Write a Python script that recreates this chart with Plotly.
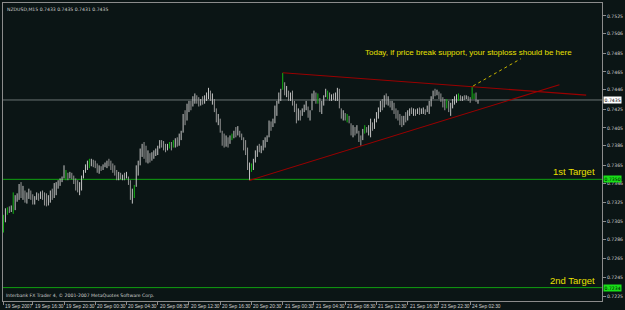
import plotly.graph_objects as go

symbol_header = "NZDUSD,M15 0.7433 0.7435 0.7431 0.7435"
footer_text = "Interbank FX Trader 4, \u00a9 2001-2007 MetaQuotes Software Corp."
note_text = "Today, if price break support, your stoploss should be here"

PIP = 0.0001  # prices below are in pips (0.0001)

opens = [
    7300, 7305, 7316, 7316, 7315, 7322, 7322, 7330, 7332, 7342,
    7335, 7338, 7330, 7333, 7338, 7332, 7327, 7330, 7334, 7330,
    7335, 7331, 7326, 7324, 7330, 7336, 7332, 7343, 7345, 7347,
    7349, 7352, 7355, 7355, 7352, 7356, 7352, 7347, 7341, 7339,
    7345, 7352, 7358, 7364, 7367, 7367, 7370, 7366, 7364, 7360,
    7362, 7361, 7364, 7366, 7368, 7366, 7362, 7359, 7356, 7351,
    7355, 7352, 7354, 7351, 7353, 7346, 7330, 7336, 7343, 7360,
    7368, 7380, 7384, 7376, 7372, 7376, 7370, 7376, 7378, 7380,
    7384, 7389, 7386, 7384, 7382, 7386, 7386, 7388, 7388, 7392,
    7390, 7397, 7400, 7417, 7412, 7428, 7431, 7428, 7436, 7440,
    7433, 7430, 7435, 7432, 7438, 7441, 7445, 7437, 7436, 7424,
    7414, 7415, 7402, 7390, 7387, 7393, 7388, 7395, 7395, 7400,
    7397, 7402, 7397, 7393, 7384, 7380, 7362, 7364, 7364, 7370,
    7378, 7383, 7381, 7384, 7389, 7393, 7395, 7410, 7406, 7413,
    7426, 7432, 7441, 7455, 7452, 7444, 7443, 7437, 7440, 7431,
    7425, 7413, 7420, 7418, 7424, 7428, 7428, 7418, 7424, 7438,
    7442, 7436, 7436, 7424, 7431, 7438, 7441, 7441, 7437, 7439,
    7437, 7441, 7445, 7426, 7418, 7421, 7416, 7416, 7410, 7400,
    7404, 7399, 7402, 7393, 7392, 7403, 7403, 7402, 7405, 7411,
    7406, 7413, 7419, 7424, 7431, 7427, 7437, 7433, 7434, 7429,
    7431, 7423, 7418, 7415, 7411, 7409, 7415, 7413, 7420, 7423,
    7422, 7424, 7421, 7424, 7422, 7423, 7425, 7422, 7427, 7432,
    7436, 7443, 7441, 7444, 7439, 7436, 7430, 7431, 7431, 7425,
    7429, 7434, 7436, 7438, 7438, 7436, 7438, 7437, 7438, 7436,
    7440, 7439, 7439, 7433,
]
highs = [
    7312, 7319, 7320, 7321, 7322, 7336, 7333, 7335, 7345, 7347,
    7343, 7338, 7336, 7340, 7338, 7334, 7332, 7336, 7335, 7337,
    7338, 7336, 7335, 7333, 7338, 7340, 7346, 7347, 7349, 7351,
    7353, 7365, 7360, 7357, 7358, 7357, 7354, 7351, 7349, 7347,
    7354, 7360, 7366, 7370, 7372, 7372, 7371, 7370, 7367, 7365,
    7364, 7366, 7368, 7370, 7372, 7370, 7367, 7365, 7360, 7358,
    7357, 7355, 7357, 7358, 7353, 7349, 7340, 7344, 7365, 7370,
    7383, 7388, 7390, 7386, 7381, 7378, 7379, 7381, 7383, 7386,
    7392, 7392, 7391, 7388, 7388, 7390, 7390, 7392, 7394, 7395,
    7399, 7402, 7420, 7424, 7431, 7434, 7434, 7439, 7442, 7440,
    7438, 7436, 7439, 7440, 7443, 7448, 7445, 7442, 7436, 7426,
    7420, 7415, 7402, 7399, 7397, 7395, 7397, 7399, 7402, 7406,
    7407, 7402, 7399, 7395, 7392, 7384, 7368, 7367, 7372, 7381,
    7386, 7388, 7386, 7392, 7395, 7397, 7413, 7412, 7415, 7429,
    7434, 7443, 7447, 7464, 7454, 7450, 7445, 7443, 7445, 7434,
    7431, 7426, 7424, 7426, 7430, 7434, 7428, 7424, 7442, 7445,
    7443, 7442, 7437, 7434, 7440, 7447, 7445, 7443, 7441, 7442,
    7443, 7448, 7447, 7426, 7424, 7421, 7420, 7418, 7410, 7408,
    7406, 7408, 7402, 7397, 7404, 7408, 7406, 7408, 7415, 7411,
    7415, 7422, 7427, 7434, 7436, 7440, 7442, 7439, 7434, 7434,
    7432, 7426, 7424, 7420, 7418, 7418, 7422, 7424, 7426, 7427,
    7426, 7425, 7426, 7427, 7426, 7427, 7425, 7429, 7434, 7439,
    7445, 7447, 7446, 7444, 7442, 7438, 7436, 7436, 7434, 7432,
    7436, 7439, 7441, 7442, 7440, 7439, 7440, 7440, 7439, 7438,
    7450, 7442, 7443, 7435,
]
lows = [
    7293, 7304, 7312, 7314, 7315, 7313, 7317, 7326, 7328, 7330,
    7328, 7325, 7324, 7329, 7328, 7323, 7323, 7328, 7327, 7329,
    7328, 7322, 7321, 7322, 7325, 7328, 7330, 7333, 7340, 7343,
    7347, 7351, 7349, 7349, 7351, 7350, 7345, 7338, 7336, 7333,
    7338, 7351, 7357, 7360, 7362, 7364, 7363, 7362, 7357, 7356,
    7359, 7360, 7363, 7362, 7364, 7360, 7357, 7354, 7349, 7349,
    7350, 7349, 7349, 7351, 7344, 7328, 7324, 7330, 7342, 7354,
    7365, 7374, 7372, 7368, 7367, 7368, 7370, 7372, 7375, 7376,
    7383, 7384, 7381, 7379, 7381, 7383, 7381, 7384, 7384, 7385,
    7386, 7392, 7400, 7408, 7413, 7422, 7424, 7428, 7431, 7431,
    7428, 7429, 7430, 7431, 7434, 7436, 7434, 7430, 7422, 7411,
    7408, 7400, 7386, 7384, 7385, 7384, 7388, 7392, 7394, 7395,
    7397, 7395, 7392, 7381, 7376, 7360, 7349, 7358, 7360, 7368,
    7374, 7379, 7378, 7381, 7384, 7390, 7395, 7402, 7406, 7410,
    7418, 7431, 7434, 7446, 7440, 7438, 7434, 7434, 7429, 7422,
    7410, 7413, 7413, 7418, 7422, 7424, 7416, 7413, 7424, 7434,
    7431, 7431, 7422, 7420, 7429, 7438, 7436, 7434, 7434, 7435,
    7434, 7434, 7426, 7415, 7413, 7413, 7411, 7410, 7397, 7395,
    7397, 7399, 7390, 7386, 7392, 7399, 7400, 7397, 7395, 7402,
    7404, 7411, 7415, 7422, 7424, 7427, 7430, 7429, 7427, 7424,
    7420, 7415, 7413, 7408, 7406, 7408, 7411, 7413, 7418, 7420,
    7418, 7418, 7420, 7419, 7420, 7420, 7419, 7422, 7420, 7428,
    7436, 7439, 7440, 7436, 7433, 7427, 7424, 7426, 7422, 7418,
    7426, 7430, 7432, 7434, 7434, 7434, 7435, 7436, 7434, 7432,
    7436, 7436, 7433, 7431,
]
closes = [
    7300, 7316, 7316, 7315, 7320, 7322, 7330, 7332, 7342, 7335,
    7338, 7330, 7333, 7338, 7332, 7327, 7330, 7334, 7330, 7335,
    7331, 7326, 7324, 7330, 7336, 7332, 7343, 7345, 7347, 7349,
    7352, 7356, 7355, 7352, 7356, 7352, 7347, 7341, 7339, 7345,
    7352, 7358, 7364, 7367, 7367, 7370, 7366, 7364, 7360, 7362,
    7361, 7364, 7366, 7368, 7366, 7362, 7359, 7356, 7351, 7355,
    7352, 7354, 7351, 7356, 7346, 7330, 7336, 7336, 7360, 7368,
    7380, 7384, 7376, 7372, 7376, 7370, 7376, 7378, 7380, 7384,
    7389, 7386, 7384, 7382, 7386, 7386, 7384, 7388, 7392, 7390,
    7397, 7400, 7417, 7412, 7428, 7431, 7426, 7436, 7440, 7433,
    7430, 7435, 7432, 7438, 7441, 7445, 7437, 7440, 7424, 7414,
    7417, 7402, 7390, 7387, 7393, 7387, 7392, 7395, 7400, 7397,
    7404, 7397, 7393, 7384, 7380, 7362, 7364, 7364, 7370, 7378,
    7383, 7381, 7384, 7389, 7393, 7395, 7410, 7405, 7413, 7426,
    7432, 7441, 7445, 7455, 7444, 7447, 7437, 7440, 7431, 7425,
    7413, 7420, 7416, 7424, 7428, 7431, 7418, 7421, 7438, 7442,
    7434, 7436, 7424, 7431, 7438, 7444, 7441, 7437, 7439, 7437,
    7441, 7445, 7428, 7418, 7421, 7416, 7416, 7412, 7400, 7404,
    7399, 7405, 7393, 7389, 7401, 7403, 7402, 7405, 7411, 7406,
    7413, 7419, 7424, 7431, 7427, 7437, 7433, 7436, 7429, 7431,
    7423, 7418, 7415, 7411, 7409, 7415, 7413, 7420, 7423, 7422,
    7424, 7421, 7424, 7422, 7423, 7425, 7421, 7427, 7432, 7436,
    7443, 7441, 7444, 7439, 7436, 7430, 7427, 7431, 7425, 7429,
    7434, 7436, 7439, 7438, 7436, 7438, 7437, 7438, 7436, 7435,
    7440, 7439, 7434, 7435,
]
assert len(opens) == len(highs) == len(lows) == len(closes), (len(opens), len(highs), len(lows), len(closes))

x_tick_bars = [0, 15, 31, 47, 63, 79, 95, 111, 127, 143, 159, 175, 191, 207, 223, 239]
x_tick_labels = ["19 Sep 2007", "19 Sep 16:30", "19 Sep 20:30", "20 Sep 00:30", "20 Sep 04:30",
                 "20 Sep 08:30", "20 Sep 12:30", "20 Sep 16:30", "20 Sep 20:30", "21 Sep 00:30",
                 "21 Sep 04:30", "21 Sep 08:30", "21 Sep 12:30", "21 Sep 16:30", "23 Sep 22:30",
                 "24 Sep 02:30"]

y_tick_values = [0.7525, 0.7506, 0.7485, 0.7465, 0.7446, 0.7425, 0.7405, 0.7386, 0.7365,
                 0.7346, 0.7325, 0.7305, 0.7286, 0.7265, 0.7245, 0.7225]

bid_price = 0.7435
target1_price = 0.7350
target2_price = 0.7234

upper_trend_x = [143, 298.4]
upper_trend_y = [0.74641, 0.74402]
lower_trend_x = [126, 284.7]
lower_trend_y = [0.73489, 0.74513]
pointer_x = [240.5, 264.9]
pointer_y = [0.7450, 0.74791]

BG = "#0b1515"
FRAME = "#8c8c8c"
TXT = "#d0d0d0"
YELLOW = "#e8e000"

# build candle segments (MT4 candles at minimum zoom are plain high-low lines)
groups = {"up": ([], []), "down": ([], []), "doji": ([], [])}
for i, (o, h, l, c) in enumerate(zip(opens, highs, lows, closes)):
    key = "doji" if o == c else ("up" if c > o else "down")
    xs, ys = groups[key]
    xs += [i, i, None]
    ys += [l * PIP, h * PIP, None]

fig = go.Figure()
colors = {"up": "#c4c4c4", "down": "#989898", "doji": "#14b414"}
for key in ["up", "down", "doji"]:
    xs, ys = groups[key]
    fig.add_trace(go.Scatter(x=xs, y=ys, mode="lines", line=dict(color=colors[key], width=1),
                             hoverinfo="skip", showlegend=False))

fig.add_trace(go.Scatter(x=upper_trend_x, y=upper_trend_y, mode="lines",
                         line=dict(color="#9a0000", width=1.1), showlegend=False))
fig.add_trace(go.Scatter(x=lower_trend_x, y=lower_trend_y, mode="lines",
                         line=dict(color="#9a0000", width=1.1), showlegend=False))
fig.add_trace(go.Scatter(x=pointer_x, y=pointer_y, mode="lines",
                         line=dict(color="#c8b400", width=1, dash="dot"), showlegend=False))

for price, col in [(bid_price, "#6a7474"), (target1_price, "#10a010"), (target2_price, "#10a010")]:
    fig.add_shape(type="line", xref="paper", x0=0, x1=1, yref="y", y0=price, y1=price,
                  line=dict(color=col, width=1), layer="below")

small = dict(family="DejaVu Sans", size=4.6, color=TXT)
xlab = dict(family="Liberation Sans", size=4.8, color=TXT)
ann = []
for xb, lab in zip(x_tick_bars, x_tick_labels):
    ann.append(dict(x=xb, xref="x", y=0, yref="paper", text=lab, showarrow=False,
                    xanchor="left", yanchor="top", xshift=0, yshift=-1, font=xlab))
ann.append(dict(x=0, xref="paper", y=1, yref="paper", text=symbol_header, showarrow=False,
                xanchor="left", yanchor="top", xshift=2, yshift=-2, font=small))
ann.append(dict(x=0, xref="paper", y=0, yref="paper", text=footer_text, showarrow=False,
                xanchor="left", yanchor="bottom", xshift=1, yshift=1, font=small))
ann.append(dict(x=184.1, xref="x", y=0.74855, yref="y", text=note_text, showarrow=False,
                xanchor="left", yanchor="middle", font=dict(family="Liberation Sans", size=8, color=YELLOW)))
ann.append(dict(x=1, xref="paper", y=target1_price, yref="y", text="1st Target", showarrow=False,
                xanchor="right", yanchor="bottom", xshift=-5, yshift=0,
                font=dict(family="Liberation Sans", size=9.5, color=YELLOW)))
ann.append(dict(x=1, xref="paper", y=target2_price, yref="y", text="2nd Target", showarrow=False,
                xanchor="right", yanchor="bottom", xshift=-5, yshift=0,
                font=dict(family="Liberation Sans", size=9.5, color=YELLOW)))
for price, bg in [(bid_price, "#ffffff"), (target1_price, "#18e018"), (target2_price, "#18e018")]:
    ann.append(dict(x=1, xref="paper", y=price, yref="y", text=f"{price:.4f}", showarrow=False,
                    xanchor="left", yanchor="middle", xshift=1, bgcolor=bg, borderpad=0.5,
                    font=dict(family="DejaVu Sans", size=4.6, color="#000000")))

fig.update_layout(
    width=625, height=310,
    margin=dict(l=2, r=19, t=2, b=9),
    paper_bgcolor=BG, plot_bgcolor=BG,
    showlegend=False,
    annotations=ann,
    xaxis=dict(range=[-0.236, 306.5], tickvals=x_tick_bars, showticklabels=False,
               ticks="outside", ticklen=3, tickcolor=FRAME, showgrid=False, zeroline=False,
               showline=True, linecolor=FRAME, linewidth=1, mirror=True, fixedrange=True),
    yaxis=dict(range=[0.721967, 0.753888], side="right", tickvals=y_tick_values,
               ticktext=[f"{v:.4f}" for v in y_tick_values],
               tickfont=dict(family="DejaVu Sans", size=4.6, color=TXT),
               ticks="outside", ticklen=3, tickcolor=FRAME, showgrid=False, zeroline=False,
               showline=True, linecolor=FRAME, linewidth=1, mirror=True, fixedrange=True),
)

fig.write_html("out.html")
